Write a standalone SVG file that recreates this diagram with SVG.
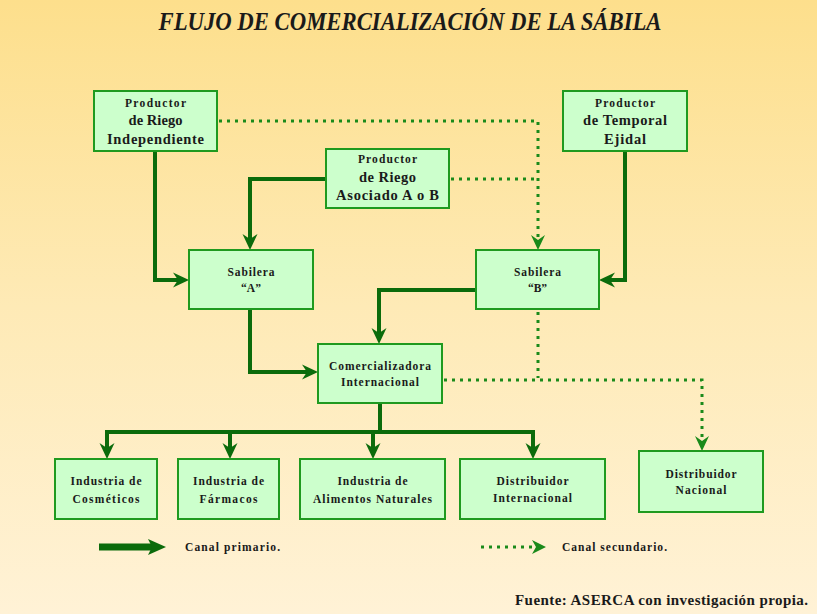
<svg xmlns="http://www.w3.org/2000/svg" width="817" height="614" viewBox="0 0 817 614">
<defs>
<linearGradient id="bg" x1="0" y1="0" x2="0" y2="1">
<stop offset="0" stop-color="#fddf8c"/>
<stop offset="0.5" stop-color="#feeab6"/>
<stop offset="1" stop-color="#fff2d6"/>
</linearGradient>
<marker id="ah" markerUnits="userSpaceOnUse" viewBox="0 0 16 16" markerWidth="16" markerHeight="16" refX="8" refY="8" orient="auto">
<path d="M16,8 L0,0.5 L5,8 L0,15.5 Z" fill="#0b6b0b"/>
</marker>
<marker id="ahd" markerUnits="userSpaceOnUse" viewBox="0 0 16 16" markerWidth="16" markerHeight="16" refX="6" refY="8" orient="auto">
<path d="M16,8 L1,1 L6,8 L1,15 Z" fill="#1a8a1a"/>
</marker>
<style>
.box{fill:#ccffcc;stroke:#1f9a1f;stroke-width:2}
.t{font-family:"Liberation Serif","Times New Roman",serif;font-weight:bold;fill:#1a1a1a;text-anchor:middle}
.s{font-size:11.5px}
.l{font-size:14.5px}
.pri{fill:none;stroke:#0b6b0b;stroke-width:4;stroke-linejoin:miter}
.sec{fill:none;stroke:#1a8a1a;stroke-width:3;stroke-dasharray:3 5}
</style>
</defs>
<rect x="0" y="0" width="817" height="614" fill="url(#bg)"/>
<text x="410" y="30" font-family="'Liberation Serif','Times New Roman',serif" font-weight="bold" font-style="italic" font-size="26" fill="#1a1a1a" text-anchor="middle" textLength="503" lengthAdjust="spacingAndGlyphs">FLUJO DE COMERCIALIZACIÓN DE LA SÁBILA</text>

<g id="connectors">
<path class="pri" d="M155,151 V280 H181" marker-end="url(#ah)"/>
<path class="pri" d="M326,179 H250 V242" marker-end="url(#ah)"/>
<path class="pri" d="M625,151 V280 H607" marker-end="url(#ah)"/>
<path class="pri" d="M476,290 H379 V336" marker-end="url(#ah)"/>
<path class="pri" d="M250,309 V372 H310" marker-end="url(#ah)"/>
<path class="pri" d="M380,403 V432"/>
<path class="pri" d="M107,432 H533"/>
<path class="pri" d="M107,430 V451" marker-end="url(#ah)"/>
<path class="pri" d="M230,430 V451" marker-end="url(#ah)"/>
<path class="pri" d="M373,430 V451" marker-end="url(#ah)"/>
<path class="pri" d="M533,430 V451" marker-end="url(#ah)"/>
<path class="sec" d="M219,121 H538 V240" marker-end="url(#ahd)"/>
<path class="sec" d="M451,179 H536"/>
<path class="sec" d="M538,312 V378"/>
<path class="sec" d="M444,380 H702 V441" marker-end="url(#ahd)"/>
</g>

<g id="n-riego-indep">
<rect class="box" x="94" y="91" width="123" height="60"/>
<text class="t s" x="155.5" y="107" textLength="61">Productor</text>
<text class="t l" x="155.5" y="125" textLength="54">de Riego</text>
<text class="t l" x="155.5" y="144" textLength="97">Independiente</text>
</g>
<g id="n-temporal">
<rect class="box" x="563" y="91" width="124" height="60"/>
<text class="t s" x="625" y="107" textLength="60">Productor</text>
<text class="t l" x="625" y="125" textLength="84">de Temporal</text>
<text class="t l" x="625" y="144" textLength="42">Ejidal</text>
</g>
<g id="n-asociado">
<rect class="box" x="326" y="149" width="123" height="59"/>
<text class="t s" x="387.5" y="163" textLength="59">Productor</text>
<text class="t l" x="387.5" y="182" textLength="57">de Riego</text>
<text class="t l" x="387.5" y="200" textLength="103">Asociado A o B</text>
</g>
<g id="n-sabilera-a">
<rect class="box" x="189" y="250" width="124" height="59"/>
<text class="t s" x="251" y="276" textLength="47">Sabilera</text>
<text class="t s" x="251" y="292">“A”</text>
</g>
<g id="n-sabilera-b">
<rect class="box" x="476" y="250" width="123" height="59"/>
<text class="t s" x="537.5" y="276" textLength="47">Sabilera</text>
<text class="t s" x="537.5" y="292">“B”</text>
</g>
<g id="n-comercializadora">
<rect class="box" x="318" y="344" width="124" height="59"/>
<text class="t s" x="380" y="370" textLength="102">Comercializadora</text>
<text class="t s" x="380" y="386" textLength="78">Internacional</text>
</g>
<g id="n-cosmeticos">
<rect class="box" x="55" y="459" width="102" height="60"/>
<text class="t s" x="106" y="485" textLength="71">Industria de</text>
<text class="t s" x="106" y="503" textLength="67">Cosméticos</text>
</g>
<g id="n-farmacos">
<rect class="box" x="178" y="459" width="101" height="60"/>
<text class="t s" x="228.5" y="485" textLength="71">Industria de</text>
<text class="t s" x="228.5" y="503" textLength="58">Fármacos</text>
</g>
<g id="n-alimentos">
<rect class="box" x="300" y="459" width="145" height="60"/>
<text class="t s" x="372.5" y="485" textLength="70">Industria de</text>
<text class="t s" x="372.5" y="503" textLength="119">Alimentos Naturales</text>
</g>
<g id="n-dist-int">
<rect class="box" x="460" y="459" width="145" height="60"/>
<text class="t s" x="532.5" y="485" textLength="72">Distribuidor</text>
<text class="t s" x="532.5" y="502" textLength="79">Internacional</text>
</g>
<g id="n-dist-nac">
<rect class="box" x="639" y="451" width="124" height="61"/>
<text class="t s" x="701" y="478" textLength="71">Distribuidor</text>
<text class="t s" x="701" y="494" textLength="51">Nacional</text>
</g>

<g id="legend">
<path d="M99,547 H153" stroke="#0b6b0b" stroke-width="7" fill="none"/>
<path d="M166,547 L148,539 L152,547 L148,555 Z" fill="#0b6b0b"/>
<text class="t s" x="185" y="551" style="text-anchor:start" textLength="95">Canal primario.</text>
<path d="M481,547 H534" stroke="#1a8a1a" stroke-width="3" stroke-dasharray="3 5" fill="none"/>
<path d="M546,547 L532,540 L536,547 L532,554 Z" fill="#1a8a1a"/>
<text class="t s" x="562" y="551" style="text-anchor:start" textLength="105">Canal secundario.</text>
</g>
<text class="t" x="515" y="605" font-size="15" style="text-anchor:start" textLength="293">Fuente: ASERCA con investigación propia.</text>
</svg>
